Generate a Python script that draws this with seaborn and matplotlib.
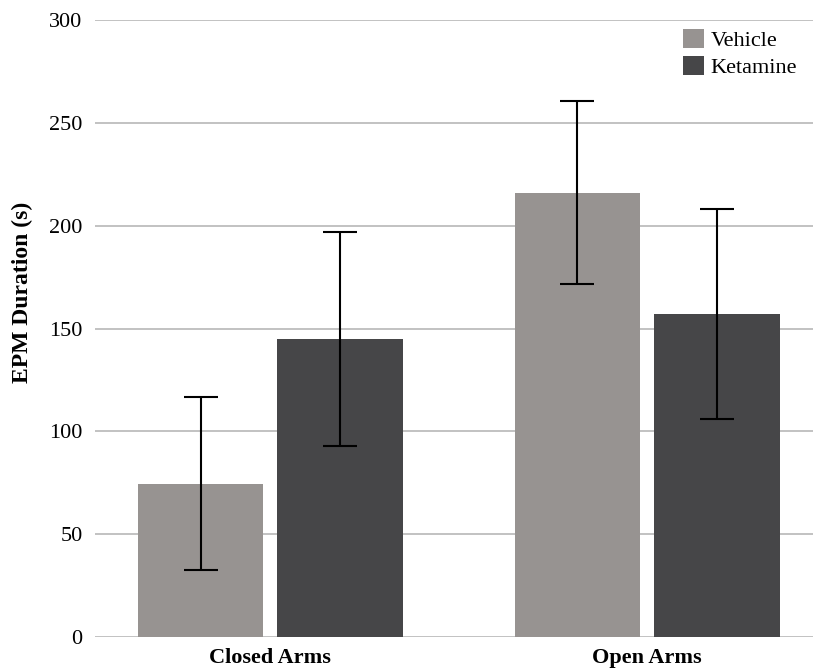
#!/usr/bin/env python3

import pandas as pd
import numpy as np
import seaborn as sns
import matplotlib.pyplot as plt
from matplotlib.patches import Patch


# values
arms = ["Closed Arms", "Open Arms"]
groups = ["Vehicle", "Ketamine"]
vehicle_mean = [74.5, 216.0]
vehicle_err = [42.0, 44.5]
ketamine_mean = [145.0, 157.0]
ketamine_err = [52.0, 51.0]
colors = ["#979391", "#464648"]
yticks = [0, 50, 100, 150, 200, 250, 300]


def showMe():
    df = pd.DataFrame({
        "arm": arms * 2,
        "group": [groups[0]] * 2 + [groups[1]] * 2,
        "dur": vehicle_mean + ketamine_mean,
    })

    sns.set_style("white")
    plt.rcParams["font.family"] = ["Liberation Serif", "DejaVu Serif"]
    plt.rcParams["text.color"] = "black"
    plt.rcParams["xtick.color"] = "black"
    plt.rcParams["ytick.color"] = "black"
    plt.rcParams["axes.labelcolor"] = "black"

    fig = plt.figure(figsize=(8.13, 6.71), dpi=100)
    ax = fig.add_axes([95 / 813, 1 - 637 / 671, 1 - 95 / 813, (637 - 20) / 671])

    sns.barplot(data=df, x="arm", y="dur", hue="group", hue_order=groups,
                palette=colors, width=0.74, gap=0.1, errorbar=None,
                saturation=1, legend=False, ax=ax, zorder=2, linewidth=0)

    # error bars on top of each bar
    for cont, errs in zip(ax.containers, [vehicle_err, ketamine_err]):
        for bar, e in zip(cont, errs):
            xc = bar.get_x() + bar.get_width() / 2
            ax.errorbar(xc, bar.get_height(), yerr=e, color="black",
                        elinewidth=1.5, capsize=12.5, capthick=1.5, zorder=3)

    ax.set_ylim(0, 300)
    ax.set_xlim(-0.465, 1.44)
    ax.set_yticks(yticks)
    ax.yaxis.grid(True, color="#b8b8b8", linewidth=1.2, zorder=0)
    ax.set_axisbelow(True)
    for s in ax.spines.values():
        s.set_visible(False)
    ax.tick_params(axis="y", length=0, pad=9, labelsize=16)
    ax.tick_params(axis="x", length=0, pad=8)
    for lab in ax.get_xticklabels():
        lab.set_fontsize(16)
        lab.set_fontweight("bold")
    ax.set_xlabel("")
    ax.set_ylabel("EPM Duration (s)", fontsize=17, fontweight="bold")
    ax.yaxis.set_label_coords(-62 / 718, 0.558)

    handles = [Patch(facecolor=c, edgecolor="none") for c in colors]
    ax.legend(handles, groups, loc="upper right", frameon=False, fontsize=16,
              bbox_to_anchor=(797 / 813, 1 - 29 / 671), bbox_transform=fig.transFigure,
              borderpad=0, borderaxespad=0, handlelength=0.95, handleheight=0.95,
              handletextpad=0.3, labelspacing=0.2)

    fig.savefig("out.png", dpi=100)


if __name__ == "__main__":
    showMe()
